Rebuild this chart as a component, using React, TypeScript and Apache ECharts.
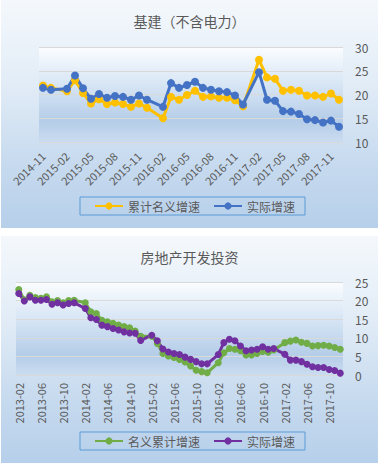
import React, { useEffect, useRef } from "react";
import * as echarts from "echarts";

// ---------- Data ----------
const infraCategories = [
  "2014-11", "2014-12",
  "2015-01", "2015-02", "2015-03", "2015-04", "2015-05", "2015-06", "2015-07", "2015-08", "2015-09", "2015-10", "2015-11", "2015-12",
  "2016-01", "2016-02", "2016-03", "2016-04", "2016-05", "2016-06", "2016-07", "2016-08", "2016-09", "2016-10", "2016-11", "2016-12",
  "2017-01", "2017-02", "2017-03", "2017-04", "2017-05", "2017-06", "2017-07", "2017-08", "2017-09", "2017-10", "2017-11", "2017-12",
];
const infraNominal = [
  21.9, 21.4,
  null, 20.7, 23.0, 20.3, 18.1, 19.0, 18.0, 18.3, 18.0, 17.4, 18.1, 17.2,
  null, 15.0, 19.5, 18.9, 19.9, 20.8, 19.5, 19.6, 19.3, 19.3, 18.8, 17.5,
  null, 27.3, 23.6, 23.3, 20.8, 21.0, 20.8, 19.8, 19.8, 19.5, 20.2, 18.9,
];
const infraReal = [
  21.4, 21.0,
  null, 21.2, 24.0, 21.3, 19.1, 20.1, 19.3, 19.7, 19.5, 18.9, 19.8, 18.9,
  null, 17.4, 22.4, 21.4, 22.0, 22.7, 21.4, 21.0, 20.7, 20.5, 19.8, 17.9,
  null, 24.7, 18.9, 18.7, 16.5, 16.4, 15.9, 14.8, 14.6, 14.1, 14.5, 13.2,
];

const reCategories = [
  "2013-02", "2013-03", "2013-04", "2013-05", "2013-06", "2013-07", "2013-08", "2013-09", "2013-10", "2013-11", "2013-12",
  "2014-01", "2014-02", "2014-03", "2014-04", "2014-05", "2014-06", "2014-07", "2014-08", "2014-09", "2014-10", "2014-11", "2014-12",
  "2015-01", "2015-02", "2015-03", "2015-04", "2015-05", "2015-06", "2015-07", "2015-08", "2015-09", "2015-10", "2015-11", "2015-12",
  "2016-01", "2016-02", "2016-03", "2016-04", "2016-05", "2016-06", "2016-07", "2016-08", "2016-09", "2016-10", "2016-11", "2016-12",
  "2017-01", "2017-02", "2017-03", "2017-04", "2017-05", "2017-06", "2017-07", "2017-08", "2017-09", "2017-10", "2017-11", "2017-12",
];
const reNominal = [
  23.0, 20.2, 21.4, 20.8, 20.6, 21.0, 19.7, 20.0, 19.4, 20.0, 20.1,
  null, 19.4, 17.0, 16.5, 14.7, 14.3, 13.9, 13.4, 13.0, 12.7, 11.8, 10.4,
  null, 10.4, 8.5, 5.8, 5.1, 4.7, 4.2, 3.5, 2.4, 1.3, 0.9, 0.6,
  null, 3.3, 6.0, 7.1, 6.9, 6.5, 5.4, 5.4, 5.8, 6.3, 6.1, 6.7,
  null, 8.7, 9.1, 9.4, 8.8, 8.5, 7.8, 7.9, 8.0, 7.8, 7.4, 6.9,
];
const reReal = [
  21.9, 19.9, 21.0, 20.1, 20.1, 20.3, 19.0, 19.4, 18.8, 19.2, 19.4,
  null, 17.9, 15.4, 14.9, 13.4, 13.0, 12.5, 12.1, 11.6, 11.3, 11.2, 9.3,
  null, 10.7, 9.2, 7.0, 6.2, 5.8, 5.5, 4.8, 4.2, 3.6, 3.0, 3.0,
  null, 5.5, 8.7, 9.6, 9.2, 7.8, 6.5, 6.7, 6.9, 7.6, 6.9, 7.1,
  null, 5.6, 4.0, 4.0, 3.6, 2.9, 2.2, 2.0, 2.0, 1.5, 1.2, 0.5,
];

const FONT = "'Noto Sans CJK SC', 'Noto Sans', sans-serif";
const TEXT = "#595959";

type PanelProps = {
  top: number;
  height: number;
  title: string;
  categories: string[];
  s1Name: string;
  s1Data: (number | null)[];
  s1Color: string;
  s2Name: string;
  s2Data: (number | null)[];
  s2Color: string;
  yMin: number;
  yMax: number;
  grid: { left: number; top: number; width: number; height: number };
  labelRotate: number;
  labelInterval: number;
  labelMargin: number;
  symbolSize: number;
  legendTop: number;
};

function Panel(p: PanelProps) {
  const ref = useRef<HTMLDivElement>(null);
  useEffect(() => {
    if (!ref.current) return;
    const chart = echarts.init(ref.current, null, { renderer: "svg" });
    const plotBg = new echarts.graphic.LinearGradient(0, 0, 0, 1, [
      { offset: 0, color: "#FBFDFF" },
      { offset: 0.45, color: "#D2E2F3" },
      { offset: 0.78, color: "#B5CDE8" },
      { offset: 1, color: "#CADCF0" },
    ]);
    const mkSeries = (name: string, data: (number | null)[], color: string) => ({
      type: "line",
      name,
      data,
      connectNulls: true,
      symbol: "circle",
      symbolSize: p.symbolSize,
      showSymbol: true,
      showAllSymbol: true,
      lineStyle: { width: 3, color },
      itemStyle: { color },
    });
    chart.setOption({
      animation: false,
      backgroundColor: "transparent",
      textStyle: { fontFamily: FONT },
      title: {
        text: p.title,
        left: "center",
        top: 9,
        textStyle: { fontSize: 14, color: TEXT, fontWeight: "normal", fontFamily: FONT },
      },
      grid: {
        left: p.grid.left,
        top: p.grid.top,
        width: p.grid.width,
        height: p.grid.height,
        show: true,
        borderWidth: 0,
        backgroundColor: plotBg,
      },
      xAxis: {
        type: "category",
        data: p.categories,
        boundaryGap: true,
        axisLine: { show: false },
        axisTick: { show: false },
        axisLabel: {
          interval: p.labelInterval,
          rotate: p.labelRotate,
          fontSize: 11,
          color: TEXT,
          margin: p.labelMargin,
          fontFamily: FONT,
        },
      },
      yAxis: {
        type: "value",
        position: "right",
        min: p.yMin,
        max: p.yMax,
        interval: 5,
        axisLine: { show: false },
        axisTick: { show: false },
        axisLabel: { fontSize: 12, color: TEXT, margin: 12, fontFamily: FONT },
        splitLine: { show: true, lineStyle: { color: "#D9D9D9", width: 1 } },
      },
      legend: {
        left: 79,
        top: p.legendTop,
        itemWidth: 28,
        itemHeight: 9,
        itemGap: 13,
        padding: [3, 10, 3, 14],
        borderColor: "#5B9BD5",
        borderWidth: 1,
        textStyle: { fontSize: 12, color: TEXT, fontFamily: FONT },
        data: [p.s1Name, p.s2Name],
      },
      series: [mkSeries(p.s1Name, p.s1Data, p.s1Color), mkSeries(p.s2Name, p.s2Data, p.s2Color)],
    });
    return () => chart.dispose();
  }, []);
  return (
    <div
      style={{
        position: "absolute",
        left: 1,
        top: p.top,
        width: 377,
        height: p.height,
        background:
          "linear-gradient(to bottom, #F4F8FC 0%, #E3EDF7 35%, #C8DBEF 70%, #B6CFEA 100%)",
      }}
    >
      <div ref={ref} style={{ width: 377, height: p.height }} />
    </div>
  );
}

export default function App() {
  useEffect(() => {
    document.body.style.margin = "0";
  }, []);
  return (
    <div style={{ position: "relative", width: 379, height: 463, background: "#FFFFFF", overflow: "hidden" }}>
      <Panel
        top={0}
        height={228}
        title="基建（不含电力）"
        categories={infraCategories}
        s1Name="累计名义增速"
        s1Data={infraNominal}
        s1Color="#FFC000"
        s2Name="实际增速"
        s2Data={infraReal}
        s2Color="#4472C4"
        yMin={10}
        yMax={30}
        grid={{ left: 38, top: 47, width: 304, height: 95 }}
        labelRotate={45}
        labelInterval={2}
        labelMargin={12}
        symbolSize={8}
        legendTop={197}
      />
      <Panel
        top={236}
        height={227}
        title="房地产开发投资"
        categories={reCategories}
        s1Name="名义累计增速"
        s1Data={reNominal}
        s1Color="#70AD47"
        s2Name="实际增速"
        s2Data={reReal}
        s2Color="#7030A0"
        yMin={0}
        yMax={25}
        grid={{ left: 15, top: 46, width: 327, height: 93 }}
        labelRotate={90}
        labelInterval={3}
        labelMargin={8}
        symbolSize={7}
        legendTop={196}
      />
    </div>
  );
}
